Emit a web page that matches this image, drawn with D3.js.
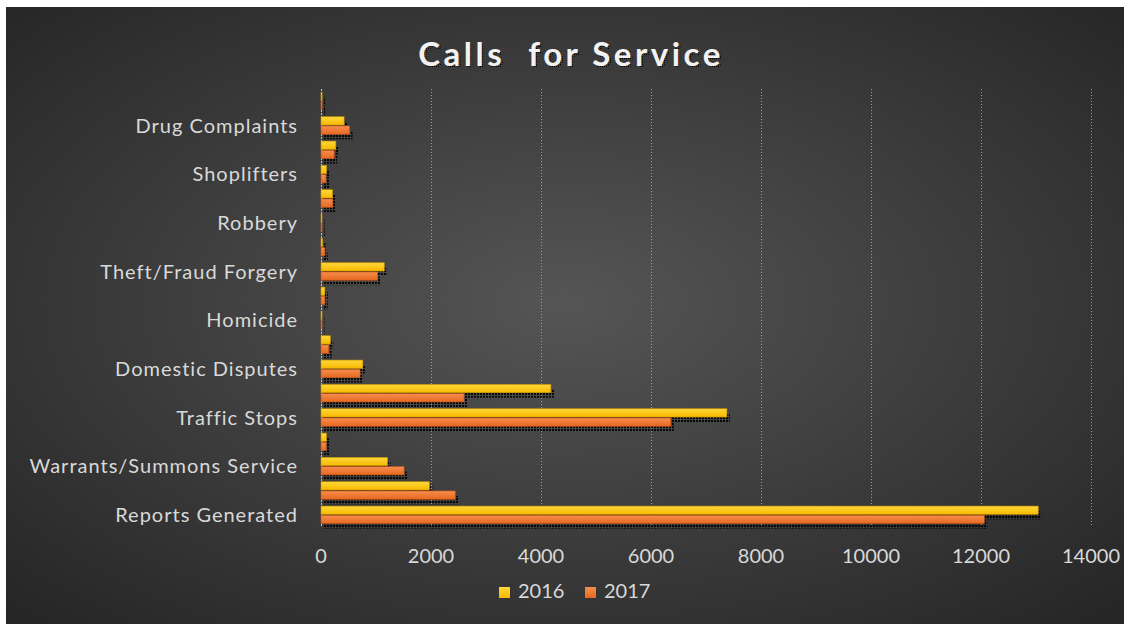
<!DOCTYPE html>
<html>
<head>
<meta charset="utf-8">
<script src="https://cdn.jsdelivr.net/npm/d3@7/dist/d3.min.js"></script>
<style>
  html, body { margin: 0; padding: 0; background: #fff; }
  svg { display: block; }
  text { font-family: Lato, "Open Sans", sans-serif; }
</style>
</head>
<body>
<div id="chart"></div>
<script>
// rows listed bottom to top, as the chart draws them; only every other label is shown
var categories = ["Reports Generated", "", "Warrants/Summons Service", "", "Traffic Stops", "",
  "Domestic Disputes", "", "Homicide", "", "Theft/Fraud Forgery", "", "Robbery", "",
  "Shoplifters", "", "Drug Complaints", ""]
var values2016 = [13040, 1970, 1210, 100, 7380, 4180, 760, 170, 10, 70, 1150, 30, 10, 210, 100, 270, 420, 20]
var values2017 = [12060, 2440, 1510, 95, 6360, 2600, 710, 140, 10, 70, 1030, 70, 15, 215, 90, 240, 520, 20]
var series = ["2016", "2017"]
var xTicks = [0, 2000, 4000, 6000, 8000, 10000, 12000, 14000]

var W = 1124, H = 624

var svg = d3.select("#chart")
  .append("svg")
    .attr("width", W)
    .attr("height", H)

var defs = svg.append("defs")

var bg = defs.append("radialGradient")
  .attr("id", "bg")
  .attr("cx", "50%").attr("cy", "48%").attr("r", "70%")
bg.append("stop").attr("offset", "0%").attr("stop-color", "#555555")
bg.append("stop").attr("offset", "100%").attr("stop-color", "#262626")

var yel = defs.append("linearGradient").attr("id", "yel").attr("x1", 0).attr("y1", 0).attr("x2", 0).attr("y2", 1)
yel.append("stop").attr("offset", "0%").attr("stop-color", "#ffd83a")
yel.append("stop").attr("offset", "100%").attr("stop-color", "#f7b900")

var ora = defs.append("linearGradient").attr("id", "ora").attr("x1", 0).attr("y1", 0).attr("x2", 0).attr("y2", 1)
ora.append("stop").attr("offset", "0%").attr("stop-color", "#f58d4e")
ora.append("stop").attr("offset", "100%").attr("stop-color", "#e8691f")

var dots = defs.append("pattern")
  .attr("id", "dots")
  .attr("width", 3).attr("height", 3)
  .attr("patternUnits", "userSpaceOnUse")
dots.append("rect").attr("width", 2).attr("height", 2).attr("fill", "#000")

var titleShadow = defs.append("pattern")
  .attr("id", "tdots")
  .attr("width", 2).attr("height", 2)
  .attr("patternUnits", "userSpaceOnUse")
titleShadow.append("rect").attr("width", 1).attr("height", 1).attr("fill", "#000")

svg.append("rect")
  .attr("x", 6).attr("y", 7)
  .attr("width", W - 6).attr("height", H - 7)
  .attr("fill", "url(#bg)")

var margin = {top: 89, bottom: 527, left: 321, right: 1091}

var xScale = d3.scaleLinear()
  .domain([0, 14000])
  .range([margin.left, margin.right])

var yScale = d3.scaleBand()
  .domain(d3.range(categories.length))
  .range([margin.bottom, margin.top])
  .paddingInner(0.28)
  .paddingOuter(0.14)

var sub = d3.scaleBand()
  .domain(series)
  .range([0, yScale.bandwidth()])
  .paddingInner(0.1)

var colors = {"2016": "url(#yel)", "2017": "url(#ora)"}
var strokes = {"2016": "#c99400", "2017": "#c9561a"}

// gridlines
svg.append("g")
  .selectAll("line")
  .data(xTicks)
  .enter()
  .append("line")
    .attr("x1", d => xScale(d) + 0.5)
    .attr("x2", d => xScale(d) + 0.5)
    .attr("y1", margin.top)
    .attr("y2", margin.bottom)
    .attr("stroke", d => d === 0 ? "#bfbfbf" : "#9a9a9a")
    .attr("stroke-width", 1)
    .style("stroke-dasharray", d => d === 0 ? "2, 1" : "1, 2")

var rows = categories.map(function(c, i) {
  return [{s: "2016", v: values2016[i], i: i}, {s: "2017", v: values2017[i], i: i}]
})
var bars = [].concat.apply([], rows)

// dotted shadows
svg.append("g")
  .selectAll("rect")
  .data(bars)
  .enter()
  .append("rect")
    .attr("x", xScale(0) + 3)
    .attr("y", d => yScale(d.i) + sub(d.s) + 5)
    .attr("width", d => Math.max(0, xScale(d.v) - xScale(0)))
    .attr("height", sub.bandwidth())
    .attr("fill", "url(#dots)")
    .attr("opacity", 0.9)

svg.append("g")
  .selectAll("rect")
  .data(bars)
  .enter()
  .append("rect")
    .attr("x", xScale(0))
    .attr("y", d => yScale(d.i) + sub(d.s))
    .attr("width", d => Math.max(1, xScale(d.v) - xScale(0)))
    .attr("height", sub.bandwidth())
    .attr("fill", d => colors[d.s])
    .attr("stroke", d => strokes[d.s])
    .attr("stroke-width", 0.6)

// category labels
svg.append("g")
  .selectAll("text")
  .data(categories)
  .enter()
  .append("text")
    .attr("x", 298)
    .attr("y", (d, i) => yScale(i) + yScale.bandwidth() / 2)
    .attr("dy", "0.36em")
    .attr("text-anchor", "end")
    .attr("fill", "#d9d9d9")
    .style("font-size", "20px")
    .style("letter-spacing", "1px")
    .text(d => d)

// x axis labels
svg.append("g")
  .selectAll("text")
  .data(xTicks)
  .enter()
  .append("text")
    .attr("x", d => xScale(d))
    .attr("y", 563)
    .attr("text-anchor", "middle")
    .attr("fill", "#d9d9d9")
    .style("font-size", "20px")
    .text(d => d)

// title with dotted shadow
var title = "Calls  for Service"
svg.append("text")
  .attr("x", 571 + 2)
  .attr("y", 66 + 2)
  .attr("text-anchor", "middle")
  .attr("fill", "url(#tdots)")
  .style("font-size", "33px")
  .style("font-weight", "bold")
  .style("letter-spacing", "3.5px")
  .style("white-space", "pre")
  .text(title)
svg.append("text")
  .attr("x", 571)
  .attr("y", 66)
  .attr("text-anchor", "middle")
  .attr("fill", "#f2f2f2")
  .style("font-size", "33px")
  .style("font-weight", "bold")
  .style("letter-spacing", "3.5px")
  .style("white-space", "pre")
  .text(title)

// legend
var legendX = [499, 585]
var legend = svg.append("g")
  .selectAll("g")
  .data(series)
  .enter()
  .append("g")
    .attr("transform", (d, i) => "translate(" + legendX[i] + ",587)")
legend.append("rect")
  .attr("width", 11)
  .attr("height", 11)
  .attr("fill", d => colors[d])
legend.append("text")
  .attr("x", 19)
  .attr("y", 11)
  .attr("fill", "#d9d9d9")
  .style("font-size", "20px")
  .text(d => d)
</script>
</body>
</html>
